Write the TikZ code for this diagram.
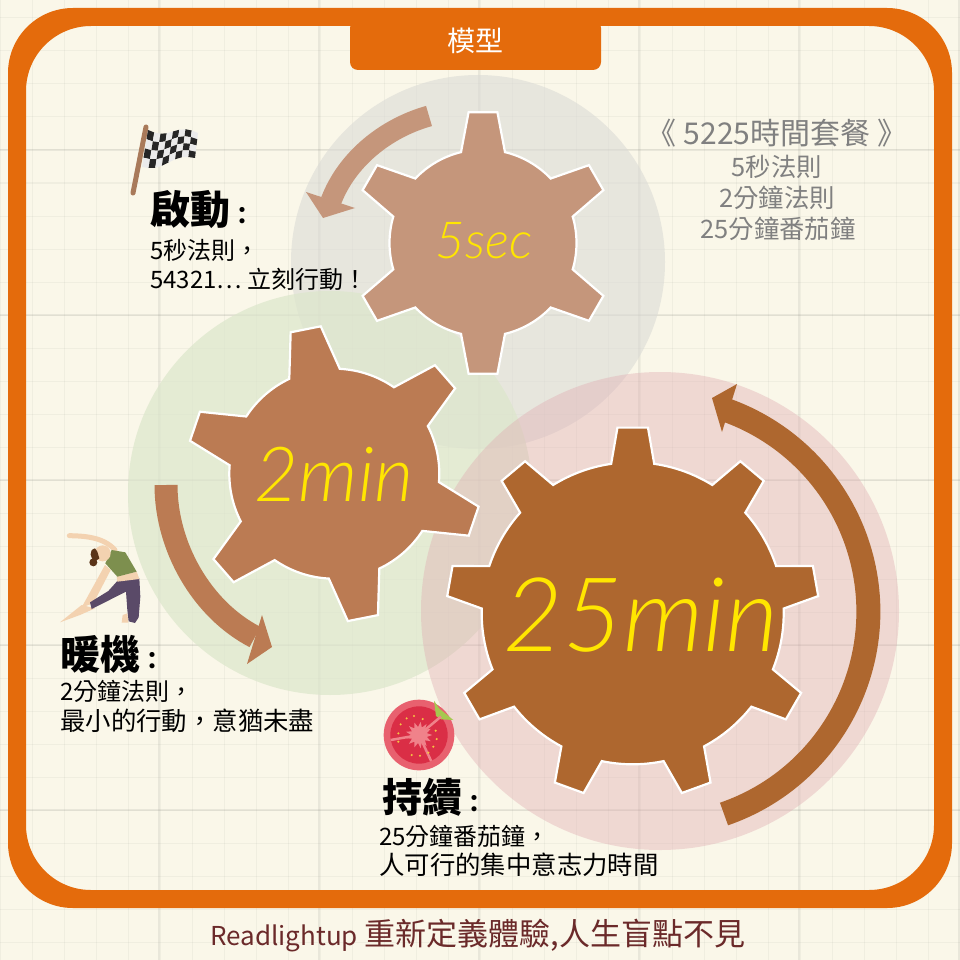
\documentclass[tikz,border=0pt]{standalone}
\usepackage{fontspec}
\usepackage{tikz}
\usetikzlibrary{positioning}
\newfontfamily\cjk{Noto Sans CJK TC}
\newfontfamily\handfont{Lato Light Italic}
\definecolor{paper}{HTML}{FAF7E9}
\definecolor{frameorange}{HTML}{E46B0C}
\definecolor{gearone}{HTML}{C5967B}
\definecolor{geartwo}{HTML}{BB7B53}
\definecolor{gearthree}{HTML}{AE672F}
\definecolor{circleone}{RGB}{219,219,214}
\definecolor{circletwo}{RGB}{220,230,203}
\definecolor{circlethree}{RGB}{224,171,177}
\definecolor{pole}{RGB}{169,122,90}
\definecolor{skin}{HTML}{F3D2B0}
\definecolor{hair}{HTML}{5A3418}
\definecolor{trousers}{RGB}{90,74,104}
\definecolor{shirt}{RGB}{125,143,78}
\definecolor{leaf}{RGB}{165,200,79}
\definecolor{tomatorim}{RGB}{232,97,111}
\definecolor{tomatoflesh}{RGB}{218,46,70}
\definecolor{tomatocore}{RGB}{240,130,138}
\definecolor{seed}{RGB}{244,197,66}
\definecolor{labelyellow}{RGB}{255,230,0}
\definecolor{footerred}{RGB}{107,42,42}
% cx, cy, tip radius, root radius, tip half angle, base half angle, teeth, first tooth, colour
\newcommand{\gearshape}[9]{%
  \begin{scope}[shift={(#1,#2)}]
    \pgfmathsetmacro{\gstep}{360/#7}
    \draw[gearline, fill=#9] (#8-#6:#4)
      \foreach \k [evaluate=\k as \ang using #8+\gstep*(\k-1)] in {1,...,#7} {
        -- (\ang-#5:#3) -- (\ang+#5:#3) -- (\ang+#6:#4)
        arc[start angle=\ang+#6, end angle=\ang+\gstep-#6, radius=#4]
      } -- cycle;
  \end{scope}}
\begin{document}
\begin{tikzpicture}[x=1pt, y=-1pt]
  \tikzstyle{gearline} = [draw=white, line width=2.2pt, line join=miter]
  \tikzstyle{gridminor} = [draw=black!40!paper, line width=1pt, opacity=0.09]
  \tikzstyle{gridmajor} = [draw=black!40!paper, line width=1.6pt, opacity=0.16]
  \tikzstyle{headtext} = [anchor=west, inner sep=0pt, text=black, font=\cjk\bfseries\fontsize{40}{44}\selectfont]
  \tikzstyle{bodytext} = [anchor=west, inner sep=0pt, text=black, font=\cjk\fontsize{24}{28}\selectfont]
  \tikzstyle{longtext} = [anchor=west, inner sep=0pt, text=black, font=\cjk\fontsize{25.4}{28}\selectfont]
  \tikzstyle{graytext} = [inner sep=0pt, text=black!50, font=\cjk\fontsize{25.4}{28}\selectfont]
  \useasboundingbox (0,0) rectangle (960,960);

  % paper
  \fill[paper] (0,0) rectangle (960,960);
  \foreach \x in {0,32,...,960} \draw[gridminor] (\x,0) -- (\x,960);
  \foreach \y in {18,51,...,960} \draw[gridminor] (0,\y) -- (960,\y);
  \foreach \x in {159,319,...,960} \draw[gridmajor] (\x,0) -- (\x,960);
  \foreach \y in {150,315,...,960} \draw[gridmajor] (0,\y) -- (960,\y);

  % big circles
  \fill[circleone, opacity=0.6] (478,262) circle [radius=187];
  \fill[circletwo, opacity=0.7] (330,493) circle [radius=202];
  \fill[circlethree, opacity=0.4] (660,611) circle [radius=239];

  % frame
  \fill[frameorange, even odd rule, rounded corners=65pt] (8,8) rectangle (952,908) (26,26) rectangle (934,890);
  \fill[frameorange, rounded corners=8pt] (350,20) rectangle (601,70);
  \node [inner sep=0pt, text=white, font=\cjk\fontsize{28}{30}\selectfont] (title) at (475,41) {模型};

  % gears
  \gearshape{483}{243}{131.5}{93.5}{6.3}{13.6}{6}{-90}{gearone}
  \gearshape{334.3}{473.7}{148}{105}{5.95}{14.2}{6}{-101.2}{geartwo}
  \gearshape{632.7}{613.3}{186.3}{151}{4.7}{8.2}{9}{-90}{gearthree}
  \node [inner sep=0pt, text=labelyellow, font=\handfont\fontsize{51}{54}\selectfont] (fivesec) at (484,241) {5sec};
  \node [inner sep=0pt, text=labelyellow, font=\handfont\fontsize{76}{80}\selectfont] (twomin) at (334,474) {2min};
  \node [inner sep=0pt, text=labelyellow, font=\handfont\fontsize{103}{108}\selectfont] (tfmin) at (641,615) {25min};

  % arc arrows
  \coordinate (bandonea) at (429,116);
  \coordinate (bandoneb) at (331,201);
  \draw[gearone, line width=21pt] (bandonea) .. controls (386,128) and (347,159) .. (bandoneb);
  \fill[gearone] (306,192) -- (355,208) -- (323,218) -- cycle;
  \coordinate (bandtwoa) at (166,485);
  \coordinate (bandtwob) at (255,637);
  \draw[geartwo, line width=23pt] (bandtwoa) .. controls (166,546) and (201,609) .. (bandtwob);
  \fill[geartwo] (262,615) -- (272,647) -- (247,664) -- cycle;
  \coordinate (bandthreea) at (724,814);
  \draw[gearthree, line width=24pt] (bandthreea) arc [start angle=71, end angle=-70, radius=214];
  \fill[gearthree] (737,384) -- (712,398) -- (722,432) -- cycle;

  % flag
  \draw[pole, line width=5pt, line cap=round] (146,127) -- (133,193);
  \foreach \i in {0,...,7} \foreach \j in {0,...,3} {
    \pgfmathsetmacro{\ua}{\i/8} \pgfmathsetmacro{\ub}{(\i+1)/8}
    \pgfmathsetmacro{\va}{\j/4} \pgfmathsetmacro{\vb}{(\j+1)/4}
    \pgfmathtruncatemacro{\odd}{mod(\i+\j,2)}
    \ifnum\odd=0 \def\cellcol{black!85}\else \def\cellcol{black!8}\fi
    \fill[\cellcol]
      ({148+50*\ua-6*\va+3*\ua*\va},{130+3*\ua+37*\va-12*\ua*\va+3*sin(360*\ua)})
      -- ({148+50*\ub-6*\va+3*\ub*\va},{130+3*\ub+37*\va-12*\ub*\va+3*sin(360*\ub)})
      -- ({148+50*\ub-6*\vb+3*\ub*\vb},{130+3*\ub+37*\vb-12*\ub*\vb+3*sin(360*\ub)})
      -- ({148+50*\ua-6*\vb+3*\ua*\vb},{130+3*\ua+37*\vb-12*\ua*\vb+3*sin(360*\ua)}) -- cycle;
  }

  % stretching figure
  \begin{scope}[shift={(40,520)}, scale=1/3]
    \draw[skin, line width=5pt, line cap=round, line join=round] (88,47) .. controls (130,48) and (190,50) .. (225,90);
    \fill[skin] (60,307) -- (125,255) -- (165,265) -- (120,285) -- cycle;
    \fill[skin] (195,135) -- (212,150) -- (160,250) -- (125,262) -- cycle;
    \fill[skin] (248,285) -- (262,280) -- (265,308) -- (245,308) -- cycle;
    \fill[trousers] (232,183) -- (298,175) -- (301,230) -- (296,292) -- (285,309) -- (266,304) -- (262,270) -- (258,215) -- (155,267) -- (150,247) -- (205,213) -- cycle;
    \fill[skin] (230,170) -- (290,155) -- (298,177) -- (232,185) -- cycle;
    \fill[shirt] (215,90) -- (256,97) -- (290,155) -- (232,170) -- (196,130) -- cycle;
    \fill[skin] (188,100) circle [radius=24];
    \fill[hair] (165,85) .. controls (145,90) and (150,115) .. (165,125) -- (178,115) -- (172,95) -- cycle;
    \fill[hair] (160,127) circle [radius=12];
  \end{scope}

  % tomato
  \begin{scope}[shift={(370,690)}, scale=1/3]
    \fill[tomatorim] (147,135) circle [radius=106];
    \fill[tomatoflesh] (147,135) circle [radius=86];
    \fill[leaf] (192,32) -- (207,55) -- (250,90) -- (214,88) -- (198,78) -- cycle;
    \begin{scope}[shift={(147,135)}]
      \foreach \a in {-40,65,170} \draw[tomatocore, line width=2.5pt] (0,0) -- (\a:86);
      \fill[tomatocore] (0:40) \foreach \b in {1,...,13} { -- (\b*27.7-13.85:24) -- (\b*27.7:40) } -- cycle;
    \end{scope}
    \foreach \sx/\sy in {92/103,110/85,132/78,158/87,85/130,85/155,197/122,200/147,190/170,175/188,150/197,125/195}
      \fill[seed] (\sx,\sy) circle [radius=3.5];
  \end{scope}

  % texts
  \node [headtext] (starthead) at (150,210) {啟動\fontsize{24}{24}\selectfont：};
  \node [bodytext] (startone) at (150,250) {5秒法則，};
  \node [bodytext] (starttwo) at (150,279) {54321… 立刻行動！};
  \node [headtext] (warmhead) at (60,654) {暖機\fontsize{24}{24}\selectfont：};
  \node [bodytext] (warmone) at (60,691) {2分鐘法則，};
  \node [longtext] (warmtwo) at (60,721) {最小的行動，意猶未盡};
  \node [headtext] (keephead) at (382,797) {持續\fontsize{24}{24}\selectfont：};
  \node [bodytext] (keepone) at (379,836) {25分鐘番茄鐘，};
  \node [longtext] (keeptwo) at (379,865) {人可行的集中意志力時間};
  \node [graytext, font=\cjk\fontsize{30}{32}\selectfont] (plan) at (777,133) {《 5225時間套餐 》};
  \node [graytext] (planone) at (777,167) {5秒法則};
  \node [graytext] (plantwo) at (777,198) {2分鐘法則};
  \node [graytext] (planthree) at (778,229) {25分鐘番茄鐘};
  \node [inner sep=0pt, text=footerred, font=\cjk\fontsize{31}{34}\selectfont] (footer) at (478,936) {{\fontsize{26}{30}\selectfont Readlightup} 重新定義體驗,人生盲點不見};
\end{tikzpicture}
\end{document}
